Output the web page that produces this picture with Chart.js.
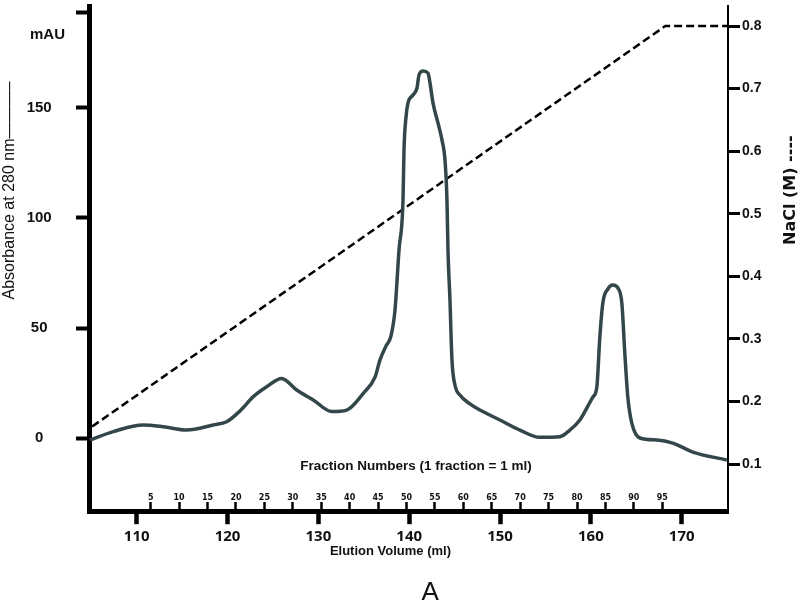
<!DOCTYPE html>
<html>
<head>
<meta charset="utf-8">
<script src="https://cdn.jsdelivr.net/npm/chart.js@4.4.1/dist/chart.umd.min.js"></script>
<style>
    body { margin: 0; background: #fff; }
    #wrap { width: 800px; height: 604px; }
</style>
</head>
<body>
<div id="wrap"><canvas id="grafico"></canvas></div>
<script>

// elution profile
const volume = [104.86, 107.42, 110.73, 112.93, 115.5, 118.43, 119.91, 121.37, 122.84, 124.31,
    125.96, 127.62, 129.44, 131.47, 133.12, 134.95, 136.24, 136.79, 137.45, 138.0,
    138.44, 138.88, 139.32, 139.43, 139.65, 139.87, 140.42, 140.86, 141.08, 141.52,
    142.07, 142.29, 142.62, 143.17, 143.61, 143.94, 144.16, 144.27, 144.49, 144.71,
    145.04, 145.59, 146.69, 147.79, 149.99, 152.19, 154.38, 156.59, 157.69, 158.79,
    160.22, 160.66, 160.99, 161.32, 161.87, 162.42, 162.97, 163.41, 163.74, 164.07,
    164.51, 165.4, 167.27, 169.03, 171.23, 174.97]
const absorbance = [-0.9, 2.9, 5.9, 5.1, 3.6, 5.9, 7.4, 12.3, 18.8, 23.3,
    27.1, 21.8, 17.3, 12.0, 12.7, 20.3, 27.7, 35.5, 41.8, 46.4,
    58.2, 85.5, 108.2, 130.9, 145.9, 152.3, 155.9, 159.1, 165.0, 166.8,
    165.9, 161.4, 152.3, 143.2, 135.5, 126.4, 108.2, 85.5, 62.7, 35.5,
    24.1, 19.5, 15.5, 12.7, 8.2, 3.6, 0.3, 0.6, 3.6, 8.2,
    18.6, 23.2, 45.9, 61.4, 67.7, 69.5, 68.2, 61.4, 38.6, 18.6,
    6.8, 0, -0.9, -2.3, -6.4, -10]

// NaCl gradient
const gradientVolume = [105.1, 168.2, 175.1]
const gradientNacl = [0.16, 0.8, 0.8]

const volumeTicks = [110, 120, 130, 140, 150, 160, 170]
const fractionTicks = [5, 10, 15, 20, 25, 30, 35, 40, 45, 50, 55, 60, 65, 70, 75, 80, 85, 90, 95]
const absTicks = [0, 50, 100, 150]
const naclTicks = [0.1, 0.2, 0.3, 0.4, 0.5, 0.6, 0.7, 0.8]

const UNIT_AT = 183.4
const TOP_MARK = 193.3
const nb = (n) => '\u00a0'.repeat(n)

const noPad = function (scale) {
    scale.paddingTop = 0
    scale.paddingBottom = 0
}

// right title reads bottom to top, so it is drawn here
const naclTitle = {
    id: 'naclTitle',
    afterDraw(chart) {
        let ctx = chart.ctx
        ctx.save()
        ctx.translate(791, 245)
        ctx.rotate(-Math.PI / 2)
        ctx.font = 'bold 16px "DejaVu Sans"'
        ctx.fillStyle = '#111'
        ctx.textAlign = 'left'
        ctx.textBaseline = 'middle'
        ctx.fillText('NaCl (M) ----', 0, 0)
        ctx.restore()
    }
}

Chart.defaults.font.family = '"Liberation Sans", Arial, sans-serif'
Chart.defaults.color = '#111'

let canvas = document.getElementById('grafico').getContext('2d')
var chart = new Chart(canvas, {
    type: 'line',
    data: {
        datasets: [{
            label: 'Absorbance',
            data: volume.map(function (v, i) { return { x: v, y: absorbance[i] } }),
            xAxisID: 'x',
            yAxisID: 'y',
            borderColor: '#33474a',
            borderWidth: 3.5,
            pointRadius: 0,
            cubicInterpolationMode: 'monotone',
            fill: false
        }, {
            label: 'NaCl',
            data: gradientVolume.map(function (v, i) { return { x: v, y: gradientNacl[i] } }),
            xAxisID: 'x',
            yAxisID: 'y2',
            borderColor: '#000',
            borderWidth: 2.5,
            borderDash: [8, 4],
            pointRadius: 0,
            tension: 0,
            fill: false
        }]
    },
    options: {
        responsive: true,
        maintainAspectRatio: false,
        animation: false,
        layout: { padding: { top: 6, left: 0, right: 0, bottom: 0 } },
        plugins: {
            legend: { display: false },
            tooltip: { enabled: false },
            title: {
                display: true,
                text: nb(6) + 'A',
                position: 'bottom',
                fullSize: false,
                color: '#111',
                font: { size: 26, weight: 'normal' },
                padding: { top: 18, bottom: -4 }
            }
        },
        scales: {
            x: {
                type: 'linear',
                position: 'bottom',
                min: 104.75,
                max: 175.1,
                afterBuildTicks: function (scale) {
                    scale.ticks = volumeTicks.map(function (v) { return { value: v } })
                },
                border: { display: true, color: '#000', width: 5 },
                grid: { drawOnChartArea: false, tickLength: 13, tickWidth: 4.5, tickColor: '#000' },
                ticks: {
                    autoSkip: false, maxRotation: 0, padding: 4,
                    font: { family: '"Open Sans"', size: 15, weight: 'bold' }
                },
                title: {
                    display: true,
                    text: 'Elution Volume (ml)' + nb(10),
                    font: { size: 13, weight: 'bold' },
                    padding: { top: -7, bottom: 0 }
                }
            },
            xf: {
                type: 'linear',
                position: { y: -33.27 },
                min: -5.855,
                max: 106.56,
                afterBuildTicks: function (scale) {
                    scale.ticks = fractionTicks.map(function (v) { return { value: v } })
                },
                border: { display: false },
                grid: { drawOnChartArea: false, tickLength: -9, tickWidth: 2.5, tickColor: '#000' },
                ticks: {
                    autoSkip: false, maxRotation: 0, padding: -9,
                    font: { family: '"DejaVu Sans"', size: 8, weight: 'bold' }
                },
                title: {
                    display: true,
                    text: nb(4) + 'Fraction Numbers (1 fraction = 1 ml)',
                    font: { size: 13.5, weight: 'bold' },
                    padding: { top: -36, bottom: 0 }
                }
            },
            y: {
                type: 'linear',
                position: 'left',
                min: -33.27,
                max: 196.36,
                afterBuildTicks: function (scale) {
                    let t = absTicks.map(function (v) { return { value: v } })
                    t.push({ value: UNIT_AT }, { value: TOP_MARK })
                    scale.ticks = t
                },
                afterFit: function (scale) {
                    noPad(scale)
                    scale.width = 89
                },
                border: { display: true, color: '#000', width: 5 },
                grid: {
                    drawOnChartArea: false, tickLength: 13, tickWidth: 4,
                    tickColor: function (c) {
                        return c.tick && c.tick.value === UNIT_AT ? 'rgba(0,0,0,0)' : '#000'
                    }
                },
                ticks: {
                    crossAlign: 'center', padding: 11,
                    font: { size: 15, weight: 'bold' },
                    callback: function (v) {
                        if (v === UNIT_AT) return nb(4) + 'mAU'
                        if (v === TOP_MARK) return ''
                        return String(v)
                    }
                },
                title: {
                    display: true,
                    align: 'end',
                    text: 'Absorbance at 280 nm———–' + nb(17),
                    font: { size: 16, weight: 'normal' },
                    padding: { top: 0, bottom: 0 }
                }
            },
            y2: {
                type: 'linear',
                position: 'right',
                min: 0.0246,
                max: 0.832,
                afterBuildTicks: function (scale) {
                    scale.ticks = naclTicks.map(function (v) { return { value: v } })
                },
                afterFit: function (scale) {
                    noPad(scale)
                    scale.width = 72
                },
                border: { display: true, color: '#000', width: 2, dash: [6, 3] },
                grid: { drawOnChartArea: false, tickLength: 12, tickWidth: 3, tickColor: '#000' },
                ticks: {
                    padding: 2,
                    font: { family: '"Liberation Sans Narrow", "Liberation Sans"', size: 14, weight: 'bold' },
                    callback: function (v) { return v.toFixed(1) }
                }
            }
        }
    },
    plugins: [naclTitle]
});

</script>
</body>
</html>
